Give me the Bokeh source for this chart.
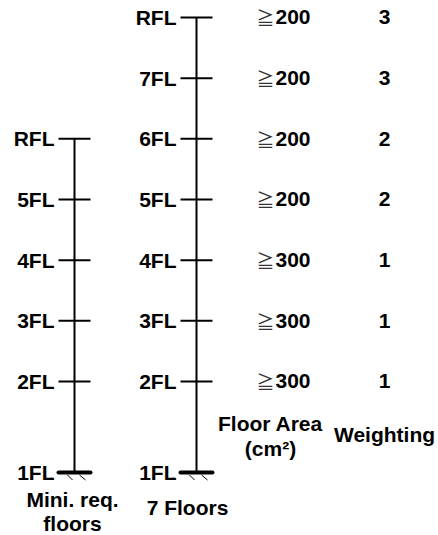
from bokeh.plotting import figure
from bokeh.models import Range1d, ColumnDataSource
from bokeh.core.properties import value
from bokeh.embed import file_html
from bokeh.resources import INLINE

# ---------------- data ----------------
floors_min = ["1FL", "2FL", "3FL", "4FL", "5FL", "RFL"]
levels_min = [0.0, 1.5, 2.5, 3.5, 4.5, 5.5]
floors_7 = ["1FL", "2FL", "3FL", "4FL", "5FL", "6FL", "7FL", "RFL"]
levels_7 = [0.0, 1.5, 2.5, 3.5, 4.5, 5.5, 6.5, 7.5]
area_floors = ["2FL", "3FL", "4FL", "5FL", "6FL", "7FL", "RFL"]
area_levels = [1.5, 2.5, 3.5, 4.5, 5.5, 6.5, 7.5]
area_cm2 = ["300", "300", "300", "200", "200", "200", "200"]
weighting = ["1", "1", "1", "2", "2", "3", "3"]
title_min = ["Mini. req.", "floors"]
title_7 = ["7 Floors"]
title_area = ["Floor Area", "(cm²)"]
title_weight = ["Weighting"]

# ---------------- layout ----------------
W, H = 438, 535
PX = 60.67          # pixels per floor-level unit
Y0 = 472            # pixel row of 1FL
ymax = Y0 / PX
ymin = ymax - H / PX


def ypx(px):
    """pixel row -> data y"""
    return ymax - px / PX


def dpx(px):
    return px / PX


COL_MIN, COL_7 = 74, 196
X_GE, X_NUM, X_W = 256, 275, 384
FONT = value("Liberation Sans")
FS = "21px"

p = figure(width=W, height=H, x_range=Range1d(0, W), y_range=Range1d(ymin, ymax),
           output_backend="svg", toolbar_location=None, min_border=0,
           x_axis_type=None, y_axis_type=None)
p.grid.visible = False
p.outline_line_color = None
p.background_fill_color = "white"
p.border_fill_color = "white"

for col, names, levels in [(COL_MIN, floors_min, levels_min), (COL_7, floors_7, levels_7)]:
    # column
    p.segment(x0=[col], y0=[levels[0]], x1=[col], y1=[levels[-1]], line_width=2, line_color="black")
    # floor ticks
    src = ColumnDataSource(dict(x0=[col - 16] * (len(levels) - 1), x1=[col + 16] * (len(levels) - 1),
                                y=levels[1:]))
    p.segment(x0="x0", y0="y", x1="x1", y1="y", source=src, line_width=2, line_color="black")
    # ground
    p.segment(x0=[col - 16], y0=[levels[0]], x1=[col + 16], y1=[levels[0]], line_width=4,
              line_color="black", line_cap="round")
    hx0 = [col - 23, col - 7, col + 5]
    hx1 = [col - 21, col - 2, col + 11]
    hy0 = [levels[0] - dpx(5), levels[0] - dpx(2.5), levels[0] - dpx(2.5)]
    hy1 = [levels[0] - dpx(7), levels[0] - dpx(7.5), levels[0] - dpx(7.5)]
    p.segment(x0=hx0, y0=hy0, x1=hx1, y1=hy1, line_width=1, line_color="black")
    # labels
    lsrc = ColumnDataSource(dict(x=[col - 20] * len(levels), y=levels, t=names))
    p.text(x="x", y="y", text="t", source=lsrc, text_font=FONT, text_font_style="bold",
           text_font_size=FS, text_align="right", text_baseline="middle", text_color="black")

# floor area & weighting
asrc = ColumnDataSource(dict(xg=[X_GE] * len(area_levels), xn=[X_NUM] * len(area_levels),
                             xw=[X_W] * len(area_levels), y=area_levels,
                             ge=["≧"] * len(area_levels), a=area_cm2, w=weighting))
p.text(x="xg", y="y", text="ge", source=asrc, text_font=value("Noto Sans CJK JP"),
       text_font_size="18px", text_align="left", text_baseline="middle", text_color="#333333")
p.text(x="xn", y="y", text="a", source=asrc, text_font=FONT, text_font_style="bold",
       text_font_size=FS, text_align="left", text_baseline="middle", text_color="black")
p.text(x="xw", y="y", text="w", source=asrc, text_font=FONT, text_font_style="bold",
       text_font_size=FS, text_align="center", text_baseline="middle", text_color="black")

# column titles
titles = [
    (72, [499, 523], title_min),
    (187, [507], title_7),
    (270, [423, 448], title_area),
    (384, [434], title_weight),
]
for x, rows, lines in titles:
    p.text(x=[x] * len(lines), y=[ypx(r) for r in rows], text=lines, text_font=FONT,
           text_font_style="bold", text_font_size=FS, text_align="center",
           text_baseline="middle", text_color="black")

open("out.html", "w").write(file_html(p, INLINE))
